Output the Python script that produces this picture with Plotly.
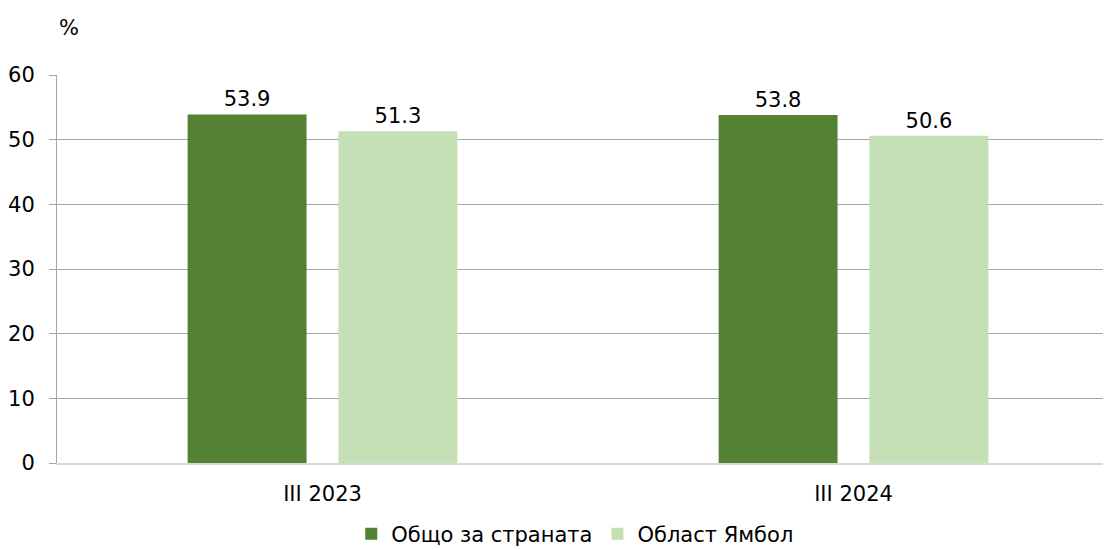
import plotly.graph_objects as go

categories = ["III 2023", "III 2024"]
series_names = ["Общо за страната", "Област Ямбол"]
country_values = [53.9, 53.8]
yambol_values = [51.3, 50.6]
y_ticks = [0, 10, 20, 30, 40, 50, 60]

dark = "#548235"
light = "#C5E0B4"
font_family = "DejaVu Sans, Verdana, sans-serif"

fig = go.Figure()
fig.add_trace(go.Bar(
    x=categories, y=country_values, name=series_names[0],
    marker=dict(color=dark, line=dict(width=0)),
    width=0.224, offset=-0.254,
    text=[f"{v:.1f}" for v in country_values], textposition="outside",
    textfont=dict(size=21, color="#000000", family=font_family),
    cliponaxis=False,
))
fig.add_trace(go.Bar(
    x=categories, y=yambol_values, name=series_names[1],
    marker=dict(color=light, line=dict(width=0)),
    width=0.224, offset=0.030,
    text=[f"{v:.1f}" for v in yambol_values], textposition="outside",
    textfont=dict(size=21, color="#000000", family=font_family),
    cliponaxis=False,
))

fig.update_layout(
    width=1111, height=550,
    margin=dict(l=49, r=0, t=67, b=95, autoexpand=False),
    paper_bgcolor="white", plot_bgcolor="white",
    font=dict(family=font_family, size=21, color="#000000"),
    barmode="group",
    showlegend=True,
    legend=dict(orientation="h", x=0.488, xanchor="center", y=-0.183, yanchor="middle",
                font=dict(size=21), itemwidth=30, tracegroupgap=0),
    xaxis=dict(
        type="category", range=[-0.5, 1.5],
        showgrid=False, showline=True, linecolor="#D9D9D9", linewidth=2,
        ticks="", tickfont=dict(size=21), ticklabelstandoff=11,
    ),
    yaxis=dict(
        range=[0, 60], tickvals=y_ticks, showgrid=True, gridcolor="#A6A6A6", gridwidth=1,
        showline=True, linecolor="#A6A6A6", linewidth=1,
        ticks="outside", ticklen=7, tickcolor="#A6A6A6",
        tickfont=dict(size=21), ticklabelstandoff=10, zeroline=False,
    ),
    annotations=[dict(text="%", xref="paper", yref="paper", x=0.0, y=1.0,
                      yshift=47, xanchor="left", yanchor="middle",
                      showarrow=False, font=dict(size=21))],
)

fig.write_html("out.html")
